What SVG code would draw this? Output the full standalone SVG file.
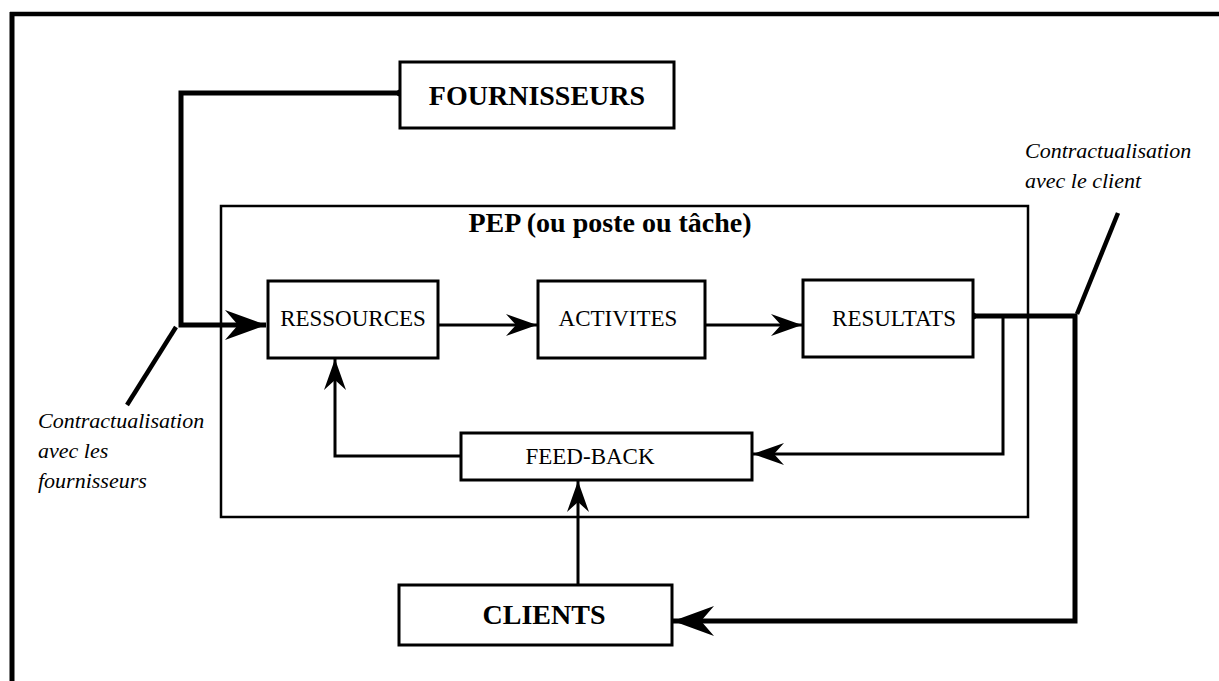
<svg xmlns="http://www.w3.org/2000/svg" width="1219" height="681" viewBox="0 0 1219 681">
  <style>
    .box { fill: #fff; stroke: #000; stroke-width: 3; }
    .frame { fill: none; stroke: #000; stroke-width: 2.5; }
    .thick { fill: none; stroke: #000; stroke-width: 5; stroke-linejoin: miter; }
    .thin { fill: none; stroke: #000; stroke-width: 3; stroke-linejoin: miter; }
    .lbl { font-family: "Liberation Serif", "Times New Roman", serif; font-size: 23px; fill: #000; text-anchor: middle; }
    .big { font-family: "Liberation Serif", "Times New Roman", serif; font-size: 28px; font-weight: bold; fill: #000; text-anchor: middle; }
    .note { font-family: "Liberation Serif", "Times New Roman", serif; font-size: 22px; font-style: italic; fill: #000; }
  </style>
  <defs>
    <marker id="headL" markerUnits="userSpaceOnUse" viewBox="-42 -16 44 32" refX="0" refY="0" markerWidth="44" markerHeight="32" orient="auto">
      <path d="M0,0 L-41,-15 L-28,0 L-41,15 Z" fill="#000"/>
    </marker>
    <marker id="headS" markerUnits="userSpaceOnUse" viewBox="-34 -13 36 26" refX="0" refY="0" markerWidth="36" markerHeight="26" orient="auto">
      <path d="M0,0 L-31,-11 L-21,0 L-31,11 Z" fill="#000"/>
    </marker>
  </defs>

  <rect width="1219" height="681" fill="#fff"/>

  <!-- page border: top and left edges -->
  <g id="border">
    <line x1="10" y1="14" x2="1219" y2="14" stroke="#000" stroke-width="4.5"/>
    <line x1="12" y1="12" x2="12" y2="681" stroke="#000" stroke-width="5"/>
  </g>

  <!-- workstation frame -->
  <g id="pep">
    <rect class="frame" x="221" y="206" width="807" height="311"/>
    <text class="big" x="610" y="232">PEP (ou poste ou tâche)</text>
  </g>

  <g id="connectors">
    <path class="thick" d="M400,93 H181 V325 H266" marker-end="url(#headL)"/>
    <path class="thin" d="M438,325 H537" marker-end="url(#headS)"/>
    <path class="thin" d="M705,325 H802" marker-end="url(#headS)"/>
    <path class="thick" d="M973,316 H1075 V621 H673" marker-end="url(#headL)"/>
    <path class="thin" d="M1003,316 V454 H753" marker-end="url(#headS)"/>
    <path class="thin" d="M461,456 H335 V359" marker-end="url(#headS)"/>
    <path class="thin" d="M578,585 V481" marker-end="url(#headS)"/>
    <circle cx="400" cy="93" r="3.5" fill="#000"/>
    <circle cx="973" cy="316" r="3.5" fill="#000"/>
    <!-- leader lines to the contract notes -->
    <line x1="176" y1="327" x2="127" y2="405" stroke="#000" stroke-width="4.5"/>
    <line x1="1077" y1="314" x2="1118" y2="213" stroke="#000" stroke-width="4.5"/>
  </g>

  <g id="fournisseurs">
    <rect class="box" x="400" y="62" width="274" height="66"/>
    <text class="big" x="537" y="105">FOURNISSEURS</text>
  </g>

  <g id="ressources">
    <rect class="box" x="268" y="281" width="170" height="77"/>
    <text class="lbl" x="353" y="326">RESSOURCES</text>
  </g>

  <g id="activites">
    <rect class="box" x="538" y="281" width="167" height="77"/>
    <text class="lbl" x="618" y="326">ACTIVITES</text>
  </g>

  <g id="resultats">
    <rect class="box" x="803" y="280" width="170" height="77"/>
    <text class="lbl" x="894" y="326">RESULTATS</text>
  </g>

  <g id="feedback">
    <rect class="box" x="461" y="433" width="291" height="47"/>
    <text class="lbl" x="590" y="464">FEED-BACK</text>
  </g>

  <g id="clients">
    <rect class="box" x="399" y="585" width="273" height="60"/>
    <text class="big" x="544" y="624">CLIENTS</text>
  </g>

  <g id="note-fournisseurs">
    <text class="note" x="38" y="428">Contractualisation</text>
    <text class="note" x="38" y="458">avec les</text>
    <text class="note" x="38" y="488">fournisseurs</text>
  </g>

  <g id="note-client">
    <text class="note" x="1025" y="158">Contractualisation</text>
    <text class="note" x="1025" y="188">avec le client</text>
  </g>
</svg>
